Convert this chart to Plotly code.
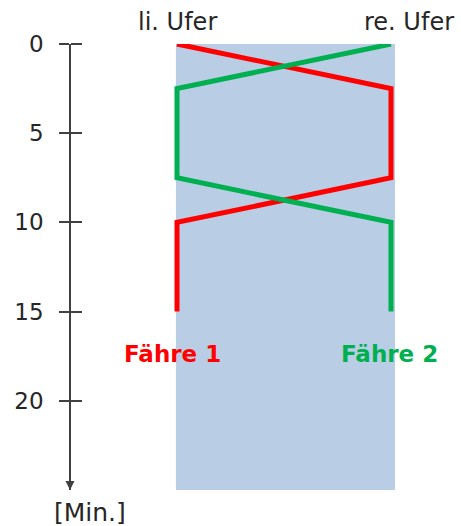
import plotly.graph_objects as go

# Data
times = [0, 2.5, 7.5, 10, 15]          # minutes
ferry1_bank = [0, 1, 1, 0, 0]           # 0 = li. Ufer, 1 = re. Ufer
ferry2_bank = [1, 0, 0, 1, 1]
series_names = ["Fähre 1", "Fähre 2"]
bank_labels = ["li. Ufer", "re. Ufer"]
tick_vals = [0, 5, 10, 15, 20]
axis_unit = "[Min.]"

RED = "#FF0000"
GREEN = "#00B050"
TXT = "#262626"
FONT = "DejaVu Sans"

W, H = 461, 526
x0_px, x1_px = 177, 391
scale = (x1_px - x0_px)
xr = [-x0_px / scale, (W - x0_px) / scale]

fig = go.Figure()
fig.add_trace(go.Scatter(x=ferry1_bank, y=times, mode="lines",
                         line=dict(color=RED, width=5), name=series_names[0]))
fig.add_trace(go.Scatter(x=ferry2_bank, y=times, mode="lines",
                         line=dict(color=GREEN, width=5), name=series_names[1]))

# river background
fig.add_shape(type="rect", xref="x", yref="y", x0=-0.005, x1=1.019, y0=0, y1=25,
              fillcolor="#B9CDE5", line=dict(width=0), layer="below")

axis_pos = 70 / W
dom = [1 - 490 / H, 1 - 44 / H]
fig.update_layout(
    width=W, height=H, margin=dict(l=0, r=0, t=0, b=0, autoexpand=False),
    paper_bgcolor="white", plot_bgcolor="white", showlegend=False,
    xaxis=dict(range=xr, visible=False, fixedrange=True, automargin=False),
    yaxis=dict(range=[25, 0], domain=dom, automargin=False,
               anchor="free", position=axis_pos,
               tickvals=tick_vals, ticks="outside", ticklen=10, tickwidth=1.5,
               ticklabelstandoff=11,
               tickcolor="#404040", showline=True, linecolor="#404040", linewidth=1.5,
               showgrid=False, zeroline=False,
               tickfont=dict(family=FONT, size=23, color=TXT)),
    yaxis2=dict(range=[25, 0], domain=dom, overlaying="y", automargin=False,
                anchor="free", position=axis_pos, side="right",
                tickvals=tick_vals, ticks="outside", ticklen=11, tickwidth=1.5,
                tickcolor="#404040", showticklabels=False, showline=False,
                showgrid=False, zeroline=False),
)
fig.add_trace(go.Scatter(x=[None], y=[None], yaxis="y2", showlegend=False))

# arrow at the end of the time axis
fig.add_annotation(x=axis_pos, xref="paper", y=25, yref="y", ax=0, ay=-30,
                   showarrow=True, arrowhead=2, arrowsize=1.2, arrowwidth=1.5,
                   arrowcolor="#404040", text="")
fig.add_annotation(x=52 / W, xref="paper", y=25, yref="y", yshift=-22, text=axis_unit,
                   showarrow=False, font=dict(family=FONT, size=25, color=TXT))

# bank labels
fig.add_annotation(x=0, y=0, xref="x", yref="y", yshift=22, text=bank_labels[0],
                   showarrow=False, font=dict(family=FONT, size=24, color=TXT))
fig.add_annotation(x=1, y=0, xref="x", yref="y", xshift=18, yshift=22, text=bank_labels[1],
                   showarrow=False, font=dict(family=FONT, size=24, color=TXT))

# ferry labels
fig.add_annotation(x=0, y=17.4, xref="x", yref="y", xshift=-5, text="<b>%s</b>" % series_names[0],
                   showarrow=False, font=dict(family=FONT, size=23, color=RED))
fig.add_annotation(x=1, y=17.4, xref="x", yref="y", xshift=-2, text="<b>%s</b>" % series_names[1],
                   showarrow=False, font=dict(family=FONT, size=23, color=GREEN))

fig.write_html("out.html", config={"displayModeBar": False},
               post_script="document.body.style.margin='0';")
